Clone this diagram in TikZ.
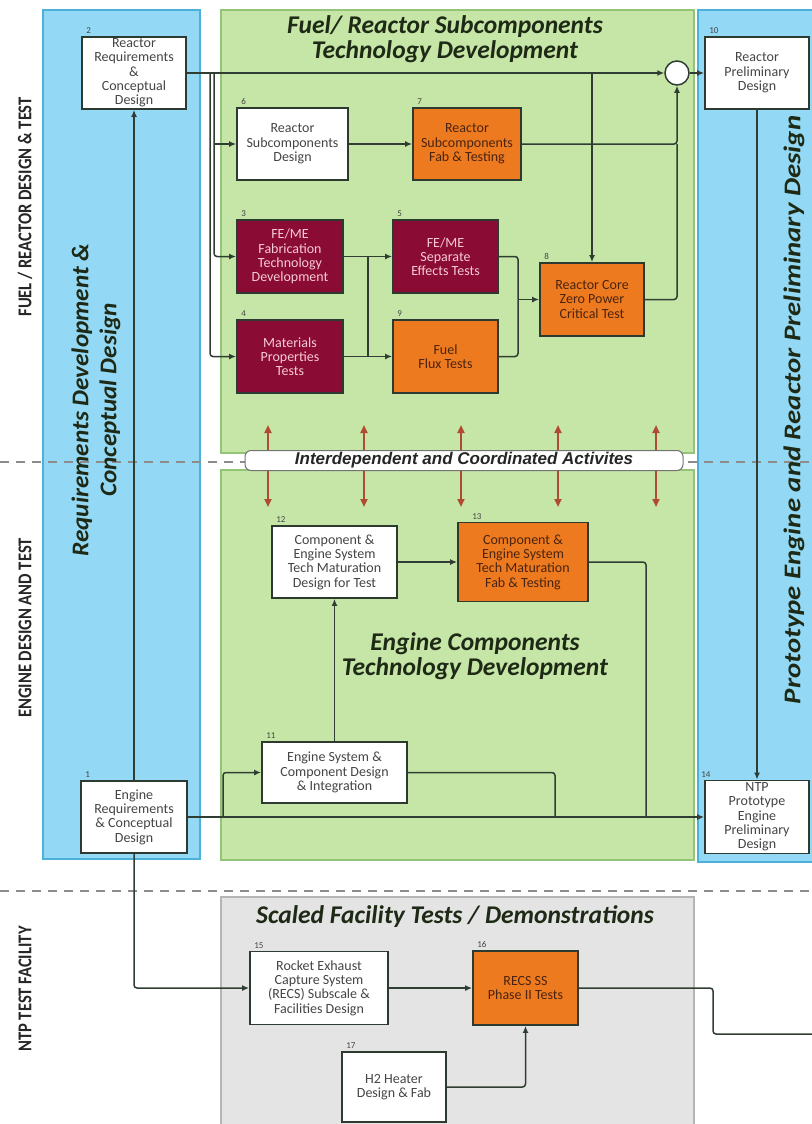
\documentclass[tikz,border=0pt]{standalone}
\usepackage{fontspec}
\setmainfont{Carlito}
\newfontfamily\arialf{Liberation Sans}
\usetikzlibrary{arrows.meta,calc}
\definecolor{bluefill}{HTML}{93D8F4}
\definecolor{blueline}{HTML}{4DB0D8}
\definecolor{greenfill}{HTML}{C6E6A8}
\definecolor{greenline}{HTML}{93C478}
\definecolor{grayfill}{HTML}{E4E4E4}
\definecolor{grayline}{HTML}{B5B5B5}
\definecolor{orangefill}{HTML}{EE7A1F}
\definecolor{redfill}{HTML}{8A0B33}
\definecolor{redtext}{HTML}{F6CBD5}
\definecolor{orangetext}{HTML}{4A2410}
\definecolor{boxtext}{HTML}{454545}
\definecolor{boxline}{HTML}{2C3A30}
\definecolor{linec}{HTML}{2F3D33}
\definecolor{arrowred}{HTML}{B04A32}
\definecolor{titlec}{HTML}{1E2A16}
\definecolor{dashc}{HTML}{8C8C8C}
\begin{document}
\begin{tikzpicture}[x=1pt,y=-1pt,
  box/.style={draw=boxline, line width=1.8pt, fill=white, align=center, inner sep=0pt,
    text=boxtext, font=\fontsize{14}{14.3}\selectfont},
  sz/.style 2 args={minimum width=#1pt, minimum height=#2pt},
  orangebox/.style={box, fill=orangefill, text=orangetext},
  redbox/.style={box, fill=redfill, text=redtext},
  num/.style={font=\fontsize{9}{9}\selectfont, text=boxtext, anchor=south west, inner sep=0pt, xshift=5pt, yshift=2pt},
  panelblue/.style={fill=bluefill, draw=blueline, line width=1.2pt},
  panelgreen/.style={fill=greenfill, draw=greenline, line width=1.2pt},
  panelgray/.style={fill=grayfill, draw=grayline, line width=1.2pt},
  dashline/.style={draw=dashc, line width=1.5pt, dash pattern=on 9pt off 7pt},
  line/.style={draw=linec, line width=1.5pt, rounded corners=3pt},
  conn/.style={line, -{Latex[length=7pt,width=6pt]}},
  redarr/.style={draw=arrowred, line width=2pt, -{Triangle[length=8pt,width=7pt]}},
  title/.style={font=\fontsize{25.5}{25}\selectfont\bfseries\itshape, text=titlec, align=center},
  sidelab/.style={rotate=90, font=\fontsize{19.5}{20}\selectfont\bfseries, text=black!85, inner sep=0pt},
  bigrot/.style={rotate=90, font=\fontsize{24}{28}\selectfont\bfseries\itshape, text=titlec, align=center},
  banner/.style={draw=black!55, line width=1pt, fill=white, rounded corners=6pt, inner sep=0pt,
    minimum width=438pt, minimum height=20pt, font=\arialf\fontsize{17}{17}\selectfont\bfseries\itshape, text=black!85}
]
\useasboundingbox (0,0) rectangle (811,1124);
% panels
\path[panelblue] (43,10) rectangle (200,859);
\path[panelgreen] (221,10) rectangle (694,453);
\path[panelgreen] (221,470) rectangle (694,860);
\path[panelblue] (698,10) rectangle (830,862);
\path[panelgray] (221,897) rectangle (694,1140);
% dashed separators
\draw[dashline] (0,462) -- (811,462);
\draw[dashline] (0,891) -- (811,891);
% side labels
\node[sidelab, anchor=east] (labfuel) at (25,97) {\scalebox{0.85}[1]{FUEL / REACTOR DESIGN \& TEST}};
\node[sidelab, anchor=west] (labeng) at (25,718) {\scalebox{0.85}[1]{ENGINE DESIGN AND TEST}};
\node[sidelab, anchor=west] (labntp) at (25,1052) {\scalebox{0.85}[1]{NTP TEST FACILITY}};
\node[bigrot] (labreq) at (96,400) {\scalebox{1.05}[1]{Requirements Development \&}\\\scalebox{1.05}[1]{Conceptual Design}};
\node[bigrot] (labproto) at (794,410) {\scalebox{1.2}[1]{Prototype Engine and Reactor Preliminary Design}};
% titles
\node[title] (t1) at (445,39) {Fuel/ Reactor Subcomponents\\Technology Development};
\node[title] (t2) at (475,656) {Engine Components\\Technology Development};
\node[title] (t3) at (455,917) {Scaled Facility Tests / Demonstrations};
% nodes
\node[box, sz={104}{72}] (n2) at (134,73) {Reactor\\Requirements\\\&\\Conceptual\\Design};
\node[box, sz={106}{72}] (n1) at (134,817) {Engine\\Requirements\\\& Conceptual\\Design};
\node[box, sz={111}{72}] (n6) at (292.5,144) {Reactor\\Subcomponents\\Design};
\node[orangebox, sz={108}{72}] (n7) at (467,144) {Reactor\\Subcomponents\\Fab \& Testing};
\node[redbox, sz={106}{73}] (n3) at (290,256.5) {FE/ME\\Fabrication\\Technology\\Development};
\node[redbox, sz={105}{73}] (n5) at (445.5,256.5) {FE/ME\\Separate\\Effects Tests};
\node[redbox, sz={106}{73}] (n4) at (290,356.5) {Materials\\Properties\\Tests};
\node[orangebox, sz={105}{73}] (n9) at (445.5,356.5) {Fuel\\Flux Tests};
\node[orangebox, sz={104}{73}] (n8) at (592,299.5) {Reactor Core\\Zero Power\\Critical Test};
\node[circle, draw=linec, line width=1.5pt, fill=white, minimum size=24pt, inner sep=0pt] (circ) at (677,73) {};
\node[box, sz={104}{72}] (n10) at (757,73) {Reactor\\Preliminary\\Design};
\node[box, sz={104}{73}] (n14) at (757,817) {NTP\\Prototype\\Engine\\Preliminary\\Design};
\node[box, sz={125}{72}] (n12) at (334.5,562) {Component \&\\Engine System\\Tech Maturation\\Design for Test};
\node[orangebox, sz={130}{79}] (n13) at (523,562) {Component \&\\Engine System\\Tech Maturation\\Fab \& Testing};
\node[box, sz={145}{61}] (n11) at (334.5,772.5) {Engine System \&\\Component Design\\\& Integration};
\node[box, sz={138}{73}] (n15) at (319,988) {Rocket Exhaust\\Capture System\\(RECS) Subscale \&\\Facilities Design};
\node[orangebox, sz={105}{74}] (n16) at (525.5,988) {RECS SS\\Phase II Tests};
\node[box, sz={104}{70}] (n17) at (394,1087) {H2 Heater\\Design \& Fab};
% numbers
\node[num] at (n2.north west) {2};
\node[num] at (n1.north west) {1};
\node[num] at (n6.north west) {6};
\node[num] at (n7.north west) {7};
\node[num] at (n3.north west) {3};
\node[num] at (n5.north west) {5};
\node[num] at (n4.north west) {4};
\node[num] at (n9.north west) {9};
\node[num] at (n8.north west) {8};
\node[num] at (n10.north west) {10};
\node[num, xshift=-8pt] at (n14.north west) {14};
\node[num] at (n12.north west) {12};
\node[num, xshift=10pt] at (n13.north west) {13};
\node[num] at (n11.north west) {11};
\node[num] at (n15.north west) {15};
\node[num] at (n16.north west) {16};
\node[num] at (n17.north west) {17};
% banner
\node[banner] (ban) at (464,460.5) {Interdependent and Coordinated Activites};
% red coordination arrows
\foreach \i/\x in {1/268,2/364,3/461,4/558,5/656}{
  \coordinate (ut\i) at (\x,425);
  \coordinate (dt\i) at (\x,507);
  \draw[redarr] (ban.north -| ut\i) -- (ut\i);
  \draw[redarr] (ban.south -| dt\i) -- (dt\i);
}
% bus coordinates
\coordinate (bA) at (210,73);
\coordinate (bB) at (214,73);
\coordinate (bC) at (368,0);
\coordinate (bD) at (518,0);
\coordinate (bE) at (223,0);
\coordinate (bF) at (555,0);
\coordinate (bG) at (646,0);
\coordinate (bH) at (713,0);
\coordinate (endR) at (815,1034);
% connectors top
\draw[conn] (n2.east) -- (circ.west);
\draw[conn] (bA) |- (n4.west);
\draw[conn] (bB) |- (n3.west);
\draw[conn] (n6.west -| bB) -- (n6.west);
\draw[conn] (n8.north |- n2.east) -- (n8.north);
\draw[conn] (n6) -- (n7);
\draw[conn] (n7.east) -| (circ.south);
\draw[line] (n8.east) -| (circ.south |- n7.east);
\draw[conn] (circ.east) -- (n10.west);
\draw[conn] (n3) -- (n5);
\draw[line] (n3.east -| bC) -- (n4.east -| bC);
\draw[conn] (n4) -- (n9);
\draw[line] (n5.east) -| (n8.west -| bD);
\draw[line] (n9.east) -| (n8.west -| bD);
\draw[conn] (n8.west -| bD) -- (n8.west);
\draw[conn] (n10) -- (n14);
\draw[conn] (n1) -- (n2);
% connectors engine
\draw[conn] (n1) -- (n14);
\draw[conn] (n1.east -| bE) |- (n11.west);
\draw[line] (n11.east) -| (n1.east -| bF);
\draw[conn] (n11) -- (n12);
\draw[conn] (n12) -- (n13);
\draw[line] (n13.east) -| (n1.east -| bG);
% connectors facility
\draw[conn] (n1.south) |- (n15.west);
\draw[conn] (n15) -- (n16);
\draw[conn] (n17.east) -| (n16.south);
\draw[line] (n16.east) -| (bH |- endR) -- (endR);
\end{tikzpicture}
\end{document}
